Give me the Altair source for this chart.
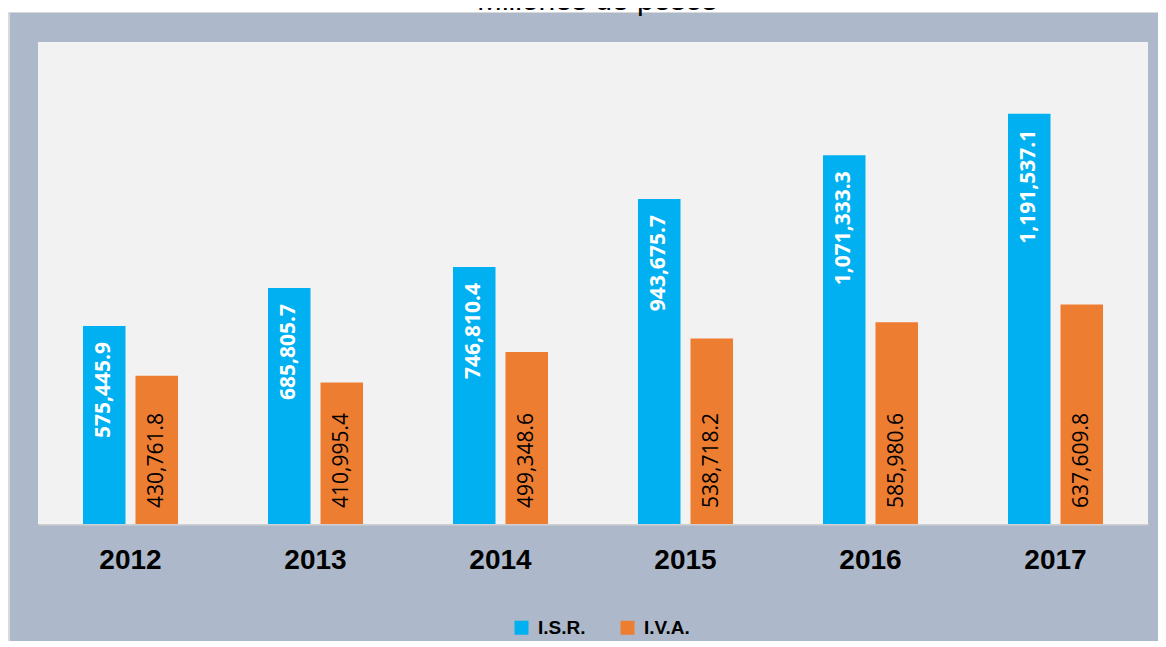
import altair as alt
import pandas as pd

years = ["2012", "2013", "2014", "2015", "2016", "2017"]
isr = [575445.9, 685805.7, 746810.4, 943675.7, 1071333.3, 1191537.1]
iva = [430761.8, 410995.4, 499348.6, 538718.2, 585980.6, 637609.8]
series = ["I.S.R.", "I.V.A."]
colors = ["#00B0F0", "#ED7D31"]
title_text = "Millones de pesos"

df = pd.DataFrame({
    "year": years * 2,
    "serie": [series[0]] * len(years) + [series[1]] * len(years),
    "value": isr + iva,
})

W, H = 1110, 482
PAD = {"left": 30, "top": 34, "right": 10, "bottom": 117}

one = pd.DataFrame({"k": [0]})

base = alt.Chart(df).encode(
    x=alt.X(
        "year:N", sort=years,
        scale=alt.Scale(paddingInner=0, paddingOuter=0),
        axis=alt.Axis(
            title=None, labelAngle=0, ticks=False, tickSize=0,
            labelFont="Liberation Sans", labelFontSize=28, labelFontWeight="bold",
            labelColor="black", labelPadding=36, labelBaseline="middle",
            domainColor="#D0D0D0", domainWidth=2, grid=False,
        ),
    ),
    xOffset=alt.XOffset(
        "serie:N", sort=series,
        scale=alt.Scale(paddingInner=0.19, paddingOuter=0.857),
    ),
)

yscale = alt.Scale(domain=[0, 1400000], nice=False)

plot_bg = alt.Chart(one).mark_rect(color="#F2F2F2").encode(
    x=alt.value(0), x2=alt.value(W), y=alt.value(0), y2=alt.value(H)
)

top_strip = alt.Chart(one).mark_rect(color="white").encode(
    x=alt.value(-PAD["left"]), x2=alt.value(W + PAD["right"]),
    y=alt.value(-PAD["top"]), y2=alt.value(-30)
)
top_line = alt.Chart(one).mark_rect(color="#D9D9D9").encode(
    x=alt.value(-PAD["left"]), x2=alt.value(W + PAD["right"]),
    y=alt.value(-30), y2=alt.value(-29)
)
left_line = alt.Chart(one).mark_rect(color="#D9D9D9").encode(
    x=alt.value(-PAD["left"]), x2=alt.value(-28),
    y=alt.value(-29), y2=alt.value(H + PAD["bottom"])
)
title = alt.Chart(one).mark_text(
    font="Liberation Sans", fontSize=30, color="black", align="center", baseline="alphabetic"
).encode(x=alt.value(559), y=alt.value(-32), text=alt.value(title_text))

bars = base.mark_bar().encode(
    y=alt.Y("value:Q", scale=yscale, axis=None),
    color=alt.Color(
        "serie:N",
        scale=alt.Scale(domain=series, range=colors),
        legend=alt.Legend(
            title=None, orient="none", legendX=474, legendY=576,
            direction="horizontal", symbolType="square", symbolSize=196,
            symbolStrokeWidth=0, labelFont="Liberation Sans", labelFontSize=19,
            labelFontWeight="bold", labelColor="black", labelOffset=7,
            columnPadding=32, padding=0,
        ),
    ),
)

isr_text = base.transform_filter(alt.datum.serie == series[0]).mark_text(
    angle=270, align="right", baseline="middle", dx=-16,
    font="Open Sans", fontSize=21, fontWeight="bold", color="white",
).encode(
    y=alt.Y("value:Q", scale=yscale, axis=None),
    text=alt.Text("value:Q", format=",.1f"),
)

iva_text = base.transform_filter(alt.datum.serie == series[1]).mark_text(
    angle=270, align="left", baseline="middle", dx=16,
    font="Open Sans", fontSize=21, color="black",
).encode(
    y=alt.datum(0),
    text=alt.Text("value:Q", format=",.1f"),
)

chart = alt.layer(
    top_strip, top_line, left_line, title, plot_bg, bars, isr_text, iva_text
).properties(
    width=W, height=H, padding=PAD,
    autosize=alt.AutoSizeParams(type="none"),
    background="#ADB9CA",
).configure_view(stroke=None)

chart.save("out.html", embed_options={"renderer": "svg", "actions": False})
